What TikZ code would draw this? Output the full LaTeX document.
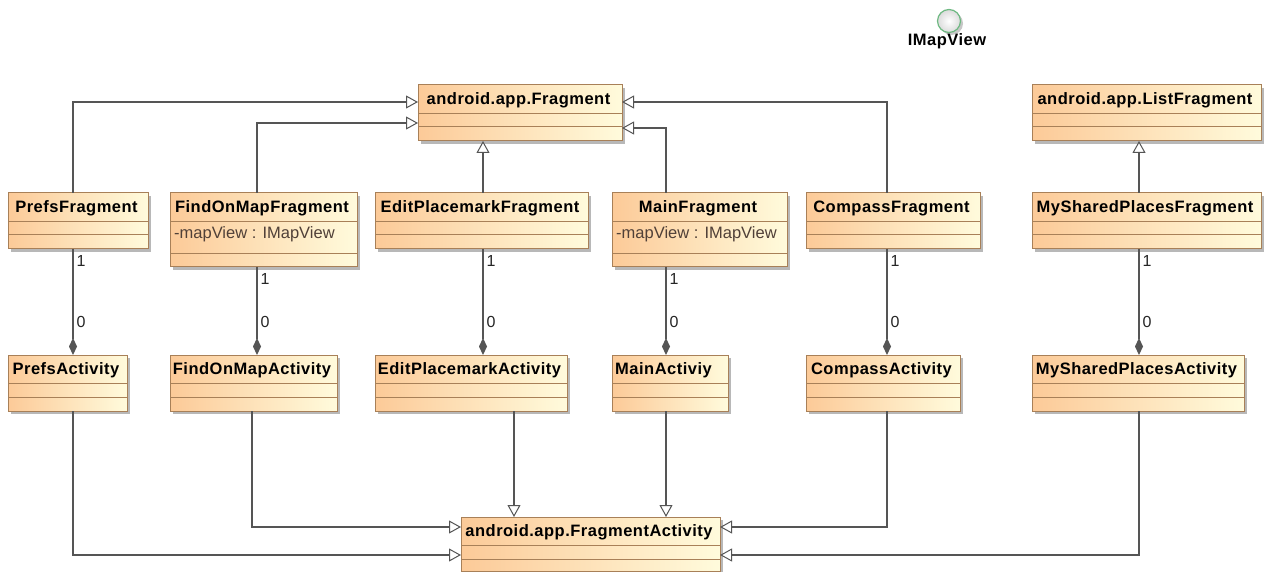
\documentclass[tikz,border=0pt]{standalone}
\usepackage{fontspec}
\setmainfont{Liberation Sans}
\newfontfamily\spacedsans{Liberation Sans}[LetterSpace=3]
\usetikzlibrary{arrows.meta,shadows}

\definecolor{peach}{RGB}{252,202,152}
\definecolor{cream}{RGB}{255,251,220}
\definecolor{border}{RGB}{168,128,88}
\definecolor{linegray}{RGB}{85,85,85}
\definecolor{attrcol}{RGB}{80,64,56}
\definecolor{ifgreen}{RGB}{110,185,130}

\newcommand\titlefont{\spacedsans\bfseries\fontsize{16.5pt}{19pt}\selectfont}
\newcommand\attrfont{\fontsize{16.5pt}{19pt}\selectfont}
\newcommand\multfont{\fontsize{16pt}{19pt}\selectfont}

\tikzset{
  classbox/.style={draw=border, line width=1pt, left color=peach, right color=cream,
    anchor=north west, inner sep=0pt, outer sep=0pt,
    drop shadow={shadow xshift=3pt, shadow yshift=-3pt, fill=black!28, opacity=1}},
  sep/.style={draw=border, line width=1pt},
  titletext/.style={font=\titlefont, text=black, inner sep=0pt},
  attrtext/.style={font=\attrfont, text=attrcol, inner sep=0pt},
  mult/.style={font=\multfont, text=black!85, inner sep=0pt},
  gen/.style={draw=linegray, line width=1.2pt,
    -{Triangle[length=12pt, width=13pt, fill=white, line width=1pt]}},
  comp/.style={draw=linegray, line width=1.2pt,
    -{Diamond[length=17pt, width=8pt, fill=linegray]}},
}

% class with two empty compartments: [title shift]{name}{x1}{y1}{x2}{y2}{title}
\newcommand\emptyclass[7][0]{%
  \pgfmathsetmacro\bw{#5-#3}%
  \pgfmathsetmacro\bh{#6-#4}%
  \node[classbox, minimum width=\bw pt, minimum height=\bh pt] (#2) at (#3pt,-#4pt) {};
  \draw[sep] ([yshift=-28.5pt]#2.north west) -- ([yshift=-28.5pt]#2.north east);
  \draw[sep] ([yshift=-42pt]#2.north west) -- ([yshift=-42pt]#2.north east);
  \node[titletext, anchor=base] (#2-title) at ([xshift=#1pt-1.5pt, yshift=-19.5pt]#2.north) {#7};
}

% class with one attribute: [title shift]{name}{x1}{y1}{x2}{y2}{title}{attribute}
\newcommand\attrclass[8][0]{%
  \pgfmathsetmacro\bw{#5-#3}%
  \pgfmathsetmacro\bh{#6-#4}%
  \node[classbox, minimum width=\bw pt, minimum height=\bh pt] (#2) at (#3pt,-#4pt) {};
  \draw[sep] ([yshift=-29pt]#2.north west) -- ([yshift=-29pt]#2.north east);
  \draw[sep] ([yshift=-61pt]#2.north west) -- ([yshift=-61pt]#2.north east);
  \node[titletext, anchor=base] (#2-title) at ([xshift=#1pt-1.5pt, yshift=-19.5pt]#2.north) {#7};
  \node[attrtext, anchor=base west] (#2-attr) at ([xshift=4pt, yshift=-46pt]#2.north west) {#8};
}

\begin{document}
\begin{tikzpicture}
\useasboundingbox[fill=white] (0pt,0pt) rectangle (1264pt,-572pt);

% interface
\node[circle, draw=ifgreen, line width=1.2pt, minimum size=23pt, inner sep=0pt,
      inner color=white, outer color=black!14,
      drop shadow={shadow xshift=2.5pt, shadow yshift=-2.5pt, fill=black!22, opacity=1}]
      (imv) at (949pt,-21pt) {};
\node[titletext, anchor=base] (imvlabel) at (947pt,-46pt) {IMapView};

% framework classes
\emptyclass{frag}{418}{85}{622}{141}{android.app.Fragment}
\emptyclass{lf}{1032}{85}{1261}{141}{android.app.ListFragment}
\emptyclass{fa}{461}{517}{720}{571.5}{android.app.FragmentActivity}

% fragments
\emptyclass{pf}{8}{193}{148}{249}{PrefsFragment}
\attrclass{fof}{170}{193}{357}{267}{FindOnMapFragment}{-mapView : IMapView}
\emptyclass{epf}{375}{193}{588}{249}{EditPlacemarkFragment}
\attrclass{mf}{612}{193}{787}{267}{MainFragment}{-mapView : IMapView}
\emptyclass{cf}{806}{193}{980}{249}{CompassFragment}
\emptyclass{msf}{1032}{193}{1261}{249}{MySharedPlacesFragment}

% activities
\emptyclass{pa}{8}{355}{127}{411}{PrefsActivity}
\emptyclass{foa}{170}{355}{337}{411}{FindOnMapActivity}
\emptyclass{epa}{375}{355}{567}{411}{EditPlacemarkActivity}
\emptyclass[-5]{ma}{612}{355}{728}{411}{MainActiviy}
\emptyclass{ca}{806}{355}{960}{411}{CompassActivity}
\emptyclass{msa}{1032}{355}{1244}{411}{MySharedPlacesActivity}

% fragment generalizations
\draw[gen] ([xshift=65pt]pf.north west) |- ([yshift=-17pt]frag.north west);
\draw[gen] ([xshift=87pt]fof.north west) |- ([yshift=-38pt]frag.north west);
\draw[gen] ([xshift=108pt]epf.north west) -- ([xshift=65pt]frag.south west);
\draw[gen] ([xshift=54pt]mf.north west) |- ([yshift=-43pt]frag.north east);
\draw[gen] ([xshift=81pt]cf.north west) |- ([yshift=-17pt]frag.north east);
\draw[gen] ([xshift=107pt]msf.north west) -- ([xshift=107pt]lf.south west);

% compositions between fragments and activities
\draw[comp] ([xshift=65pt]pf.south west)
  node[mult, anchor=north west, xshift=3pt, yshift=-6pt] {1}
  -- ([xshift=65pt]pa.north west)
  node[mult, anchor=south west, xshift=3pt, yshift=27pt] {0};
\draw[comp] ([xshift=87pt]fof.south west)
  node[mult, anchor=north west, xshift=3pt, yshift=-6pt] {1}
  -- ([xshift=87pt]foa.north west)
  node[mult, anchor=south west, xshift=3pt, yshift=27pt] {0};
\draw[comp] ([xshift=108pt]epf.south west)
  node[mult, anchor=north west, xshift=3pt, yshift=-6pt] {1}
  -- ([xshift=108pt]epa.north west)
  node[mult, anchor=south west, xshift=3pt, yshift=27pt] {0};
\draw[comp] ([xshift=54pt]mf.south west)
  node[mult, anchor=north west, xshift=3pt, yshift=-6pt] {1}
  -- ([xshift=54pt]ma.north west)
  node[mult, anchor=south west, xshift=3pt, yshift=27pt] {0};
\draw[comp] ([xshift=81pt]cf.south west)
  node[mult, anchor=north west, xshift=3pt, yshift=-6pt] {1}
  -- ([xshift=81pt]ca.north west)
  node[mult, anchor=south west, xshift=3pt, yshift=27pt] {0};
\draw[comp] ([xshift=107pt]msf.south west)
  node[mult, anchor=north west, xshift=3pt, yshift=-6pt] {1}
  -- ([xshift=107pt]msa.north west)
  node[mult, anchor=south west, xshift=3pt, yshift=27pt] {0};

% activity generalizations
\draw[gen] ([xshift=65pt]pa.south west) |- ([yshift=-38pt]fa.north west);
\draw[gen] ([xshift=82pt]foa.south west) |- ([yshift=-10pt]fa.north west);
\draw[gen] ([xshift=139pt]epa.south west) -- ([xshift=53pt]fa.north west);
\draw[gen] ([xshift=54pt]ma.south west) -- ([xshift=205pt]fa.north west);
\draw[gen] ([xshift=81pt]ca.south west) |- ([yshift=-10pt]fa.north east);
\draw[gen] ([xshift=107pt]msa.south west) |- ([yshift=-38pt]fa.north east);
\end{tikzpicture}
\end{document}
